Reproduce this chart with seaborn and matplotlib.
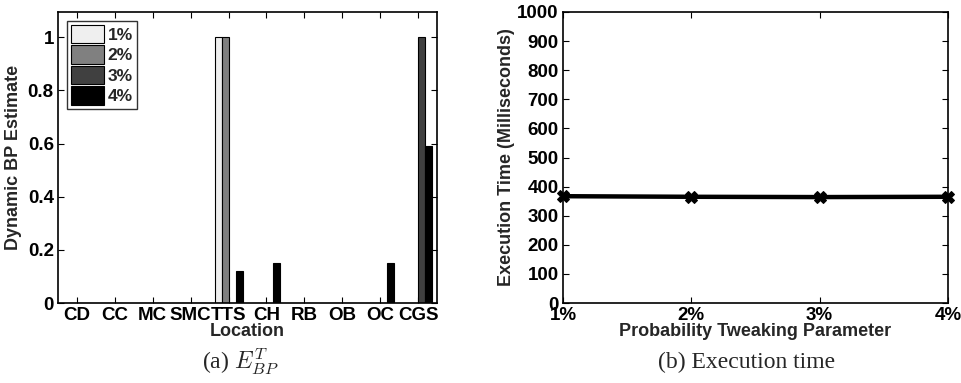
import matplotlib
matplotlib.use("Agg")
import matplotlib.pyplot as plt
import seaborn as sns
import pandas as pd
import numpy as np

locations = ["CD", "CC", "MC", "SMC", "TTS", "CH", "RB", "OB", "OC", "CGS"]
params = ["1%", "2%", "3%", "4%"]
bp_1 = [0, 0, 0, 0, 1.0, 0, 0, 0, 0, 0]
bp_2 = [0, 0, 0, 0, 1.0, 0, 0, 0, 0, 0]
bp_3 = [0, 0, 0, 0, 0, 0, 0, 0, 0, 1.0]
bp_4 = [0, 0, 0, 0, 0.12, 0.15, 0, 0, 0.15, 0.59]
exec_time = [367, 365, 364, 365]
bar_colors = ["#efefef", "#808080", "#404040", "#000000"]

sns.set_style("ticks")
plt.rcParams["font.family"] = ["Liberation Sans", "DejaVu Sans"]
plt.rcParams["font.weight"] = "bold"
plt.rcParams["mathtext.fontset"] = "cm"

rows = []
for p, vals in zip(params, [bp_1, bp_2, bp_3, bp_4]):
    for loc, v in zip(locations, vals):
        rows.append({"Location": loc, "Param": p, "Value": v})
df = pd.DataFrame(rows)
df_time = pd.DataFrame({"Param": params, "Time": exec_time, "x": [1, 2, 3, 4]})

fig = plt.figure(figsize=(9.61, 3.83), dpi=100)
ax1 = fig.add_axes([58/961, 80/383, 379/961, 291/383])
ax2 = fig.add_axes([563/961, 80/383, 385/961, 291/383])

sns.barplot(data=df, x="Location", y="Value", hue="Param", order=locations,
            hue_order=params, palette=bar_colors, edgecolor="black",
            linewidth=0.8, width=0.74, ax=ax1, legend=True)
ax1.set_xlim(-0.5, 9.5)
ax1.set_ylim(0, 1.095)
ax1.set_yticks([0, 0.2, 0.4, 0.6, 0.8, 1])
ax1.set_yticklabels(["0", "0.2", "0.4", "0.6", "0.8", "1"])
ax1.set_xlabel("Location", fontsize=13, fontweight="bold", labelpad=-1)
ax1.set_ylabel("Dynamic BP Estimate", fontsize=13, fontweight="bold", labelpad=4)
leg = ax1.legend(loc="upper left", fontsize=12.5, frameon=True, fancybox=False,
                 edgecolor="black", handlelength=1.9, handleheight=1.25,
                 handletextpad=0.2, labelspacing=0.12, borderpad=0.25,
                 borderaxespad=0.5)
leg.get_frame().set_linewidth(1.0)
for t in leg.get_texts():
    t.set_fontweight("bold")

sns.lineplot(data=df_time, x="x", y="Time", color="black", linewidth=3.2,
             marker="X", markersize=8.5, markeredgecolor="black", ax=ax2,
             clip_on=False)
ax2.set_xlim(1, 4)
ax2.set_ylim(0, 1000)
ax2.set_xticks([1, 2, 3, 4])
ax2.set_xticklabels(params)
ax2.set_yticks(range(0, 1001, 100))
ax2.set_xlabel("Probability Tweaking Parameter", fontsize=13, fontweight="bold", labelpad=-1)
ax2.set_ylabel("Execution Time (Milliseconds)", fontsize=13, fontweight="bold", labelpad=2)

for ax in (ax1, ax2):
    for s in ax.spines.values():
        s.set_visible(True)
        s.set_linewidth(1.2)
        s.set_color("black")
    ax.tick_params(direction="in", top=True, right=True, length=4, width=0.8,
                   labelsize=13.5, pad=3, colors="black")
    for lab in ax.get_xticklabels() + ax.get_yticklabels():
        lab.set_fontweight("bold")

fig.text(240/961, 1 - 362/383, r"(a) $E_{BP}^{T}$", ha="center", va="center",
         fontsize=17, family="Liberation Serif", fontweight="normal")
fig.text(747/961, 1 - 362/383, "(b) Execution time", ha="center", va="center",
         fontsize=17, family="Liberation Serif", fontweight="normal")

fig.savefig("out.png", dpi=100)
